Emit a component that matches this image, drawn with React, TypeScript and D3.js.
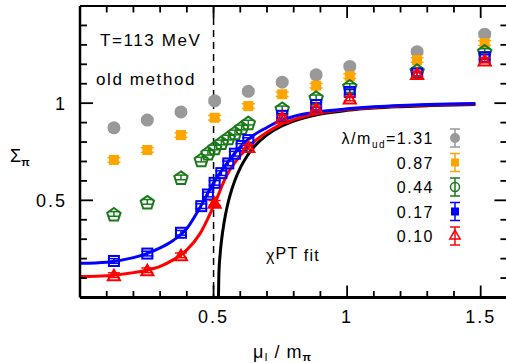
import React from "react";
import * as d3 from "d3";

// ---- data ----
const xLattice = [0.127, 0.252, 0.378, 0.504, 0.63, 0.757, 0.884, 1.01, 1.262, 1.515];
const xDense = [0.127, 0.252, 0.378, 0.454, 0.479, 0.504, 0.529, 0.555, 0.58, 0.605, 0.63, 0.757, 0.884, 1.01, 1.262, 1.515];

const grayY = [0.873, 0.913, 0.955, 1.012, 1.061, 1.108, 1.146, 1.189, 1.265, 1.355];
const orangeY = [0.708, 0.759, 0.836, 0.925, 0.985, 1.046, 1.09, 1.139, 1.222, 1.309];
const greenY = [0.43, 0.492, 0.618, 0.71, 0.745, 0.772, 0.798, 0.823, 0.849, 0.875, 0.9, 0.973, 1.03, 1.088, 1.169, 1.268];
const blueY = [0.188, 0.226, 0.333, 0.47, 0.53, 0.59, 0.64, 0.69, 0.74, 0.78, 0.81, 0.935, 0.99, 1.058, 1.152, 1.237];
const redY = [0.115, 0.14, 0.217, 0.487, 0.775, 0.925, 0.973, 1.024, 1.15, 1.22];
const errSmall = 0.012;

// fit curves
const fitX = [0, 0.1, 0.2, 0.25, 0.3, 0.35, 0.4, 0.45, 0.5, 0.55, 0.6, 0.65, 0.7, 0.75, 0.8, 0.9, 1.0, 1.1, 1.2, 1.3, 1.4, 1.48];
const blueFitY = [0.176, 0.182, 0.205, 0.226, 0.255, 0.295, 0.355, 0.465, 0.59, 0.69, 0.775, 0.835, 0.875, 0.91, 0.932, 0.957, 0.971, 0.981, 0.988, 0.993, 0.996, 0.998];
const redFitY = [0.108, 0.112, 0.128, 0.14, 0.16, 0.195, 0.245, 0.33, 0.47, 0.63, 0.73, 0.8, 0.85, 0.89, 0.915, 0.95, 0.967, 0.978, 0.985, 0.99, 0.994, 0.996];
const chptX = [0, 0.518, 0.52, 0.525, 0.53, 0.54, 0.55, 0.56, 0.58, 0.6, 0.625, 0.65, 0.7, 0.75, 0.8, 0.9, 1.0, 1.1, 1.2, 1.3, 1.4, 1.48];
const chptY = [0, 0, 0.124, 0.229, 0.296, 0.391, 0.462, 0.518, 0.603, 0.667, 0.727, 0.773, 0.837, 0.879, 0.908, 0.944, 0.963, 0.975, 0.982, 0.987, 0.991, 0.9925];

const legendLabels = ["1.31", "0.87", "0.44", "0.17", "0.10"];
const xTickLabels = [0.5, 1, 1.5];
const yTickLabels = [0.5, 1];

const GRAY = "#999999";
const ORANGE = "#ffa500";
const GREEN = "#1a7a1a";
const BLUE = "#0000ff";
const RED = "#ff0000";
const FONT = "'Liberation Sans', Arial, Helvetica, sans-serif";

const L = 80, R = 507.4, T = 6, B = 297.5;

export default function App() {
  const x = d3.scaleLinear().domain([0, 1.6]).range([L, R]);
  const y = d3.scaleLinear().domain([0, 1.5]).range([B, T]);
  const line = d3.line<[number, number]>().x(d => x(d[0])).y(d => y(d[1])).curve(d3.curveMonotoneX);
  const zip = (xs: number[], ys: number[]) => xs.map((v, i) => [v, ys[i]] as [number, number]);

  const minorX = d3.range(1, 16).map(i => i / 10);
  const minorY = d3.range(1, 15).map(i => i / 10);
  const isMajor = (v: number) => Math.abs(v * 2 - Math.round(v * 2)) < 1e-6;

  const errBar = (cx: number, cy: number, e: number, color: string, key: string, cap = 6) => {
    const y1 = y(e + 0), y0 = y(0);
    const d = y0 - y1;
    return (
      <g key={key} stroke={color} strokeWidth={1.5}>
        <line x1={cx} x2={cx} y1={cy - d} y2={cy + d} />
        <line x1={cx - cap} x2={cx + cap} y1={cy - d} y2={cy - d} />
        <line x1={cx - cap} x2={cx + cap} y1={cy + d} y2={cy + d} />
      </g>
    );
  };

  const pentagon = (cx: number, cy: number, r: number) => {
    const pts = d3.range(5).map(k => {
      const a = (-90 + k * 72) * Math.PI / 180;
      return [cx + r * Math.cos(a), cy + r * Math.sin(a) + 1];
    });
    return "M" + pts.map(p => p.join(",")).join("L") + "Z";
  };
  const triangle = (cx: number, cy: number, r: number) => {
    const pts = [0, 1, 2].map(k => {
      const a = (-90 + k * 120) * Math.PI / 180;
      return [cx + r * Math.cos(a), cy + r * Math.sin(a) + 1.5];
    });
    return "M" + pts.map(p => p.join(",")).join("L") + "Z";
  };

  const legendY = (i: number) => 138 + i * 24.5;
  const legX = 455;

  return (
    <svg width={506} height={363} style={{ position: "absolute", left: 0, top: 0, background: "#fff" }} fontFamily={FONT}>
      <rect x={0} y={0} width={506} height={363} fill="#fff" />
      {/* dashed vertical line */}
      <line x1={x(0.5)} x2={x(0.5)} y1={T} y2={B} stroke="#000" strokeWidth={1.5} strokeDasharray="7,5" />

      {/* fit curves */}
      <path d={line(zip(chptX, chptY)) || ""} fill="none" stroke="#000" strokeWidth={3} />
      <path d={line(zip(fitX, redFitY)) || ""} fill="none" stroke={RED} strokeWidth={3} />
      <path d={line(zip(fitX, blueFitY)) || ""} fill="none" stroke={BLUE} strokeWidth={3} />

      {/* gray */}
      {xLattice.map((v, i) => (
        <g key={"g" + i}>
          {errBar(x(v), y(grayY[i]), errSmall, GRAY, "ge" + i)}
          <circle cx={x(v)} cy={y(grayY[i])} r={6.5} fill={GRAY} />
        </g>
      ))}
      {/* orange */}
      {xLattice.map((v, i) => (
        <g key={"o" + i}>
          {errBar(x(v), y(orangeY[i]), errSmall, ORANGE, "oe" + i, 6.5)}
          <rect x={x(v) - 5} y={y(orangeY[i]) - 5} width={10} height={10} fill={ORANGE} />
        </g>
      ))}
      {/* green */}
      {xDense.map((v, i) => (
        <g key={"gr" + i}>
          {errBar(x(v), y(greenY[i]), errSmall, GREEN, "gre" + i)}
          <path d={pentagon(x(v), y(greenY[i]), 7)} fill="none" stroke={GREEN} strokeWidth={2} />
        </g>
      ))}
      {/* blue */}
      {xDense.map((v, i) => (
        <g key={"b" + i}>
          {errBar(x(v), y(blueY[i]), errSmall, BLUE, "be" + i)}
          <rect x={x(v) - 5} y={y(blueY[i]) - 5} width={10} height={10} fill="none" stroke={BLUE} strokeWidth={2} />
        </g>
      ))}
      {/* red */}
      {xLattice.map((v, i) => (
        <g key={"r" + i}>
          {errBar(x(v), y(redY[i]), errSmall, RED, "re" + i)}
          <path d={triangle(x(v), y(redY[i]), 7)} fill={i === 3 ? RED : "none"} stroke={RED} strokeWidth={2} />
        </g>
      ))}

      {/* frame */}
      <line x1={L} x2={L} y1={T} y2={B} stroke="#000" strokeWidth={2.5} />
      <line x1={L} x2={R} y1={B} y2={B} stroke="#000" strokeWidth={3} />
      <line x1={L} x2={R} y1={T} y2={T} stroke="#000" strokeWidth={2} />
      <line x1={R} x2={R} y1={T} y2={B} stroke="#000" strokeWidth={2} />
      {/* x ticks */}
      {minorX.map(v => {
        const len = isMajor(v) ? 12 : 6.5;
        return (
          <g key={"xt" + v} stroke="#000" strokeWidth={1.8}>
            <line x1={x(v)} x2={x(v)} y1={B} y2={B - len} />
            <line x1={x(v)} x2={x(v)} y1={T} y2={T + len} />
          </g>
        );
      })}
      {minorY.map(v => {
        const len = isMajor(v) ? 13 : 7;
        return (
          <g key={"yt" + v} stroke="#000" strokeWidth={1.8}>
            <line x1={L} x2={L + len} y1={y(v)} y2={y(v)} />
            <line x1={R} x2={R - len} y1={y(v)} y2={y(v)} />
          </g>
        );
      })}
      {xTickLabels.map(v => (
        <text key={"xl" + v} x={x(v)} y={323} textAnchor="middle" fontSize={18} letterSpacing={2}>{String(v)}</text>
      ))}
      {yTickLabels.map(v => (
        <text key={"yl" + v} x={67} y={y(v) + 6.5} textAnchor="end" fontSize={18} letterSpacing={2}>{String(v)}</text>
      ))}

      {/* axis titles */}
      <text x={10} y={162} fontSize={18}>Σ<tspan fontSize={11} dy={4} fontWeight="bold">π</tspan></text>
      <text x={253} y={358} fontSize={18} letterSpacing={1}>μ<tspan fontSize={11} dy={3}>I</tspan><tspan dy={-3}> / m</tspan><tspan fontSize={11} dy={3} fontWeight="bold">π</tspan></text>

      {/* annotations */}
      <text x={100} y={46} fontSize={17} letterSpacing={1.6}>T=113 MeV</text>
      <text x={96} y={85} fontSize={17} letterSpacing={1.6}>old method</text>
      <text x={266} y={261} fontSize={16} letterSpacing={1.2}>χ<tspan dy={-2}>PT</tspan><tspan dy={2}>  fit</tspan></text>

      {/* legend */}
      {legendLabels.map((lab, i) => (
        <text key={"lt" + i} x={434} y={legendY(i) + 6} textAnchor="end" fontSize={16} letterSpacing={1.5}>
          {i === 0 ? (<>
            λ/m<tspan fontSize={10} dy={4}>ud</tspan><tspan dy={-4}>={lab}</tspan>
          </>) : lab}
        </text>
      ))}
      {(() => {
        const items = [GRAY, ORANGE, GREEN, BLUE, RED];
        return items.map((c, i) => {
          const cy = legendY(i);
          const bar = (
            <g stroke={c} strokeWidth={1.5}>
              <line x1={legX} x2={legX} y1={cy - 9} y2={cy + 9} />
              <line x1={legX - 5} x2={legX + 5} y1={cy - 9} y2={cy - 9} />
              <line x1={legX - 5} x2={legX + 5} y1={cy + 9} y2={cy + 9} />
            </g>
          );
          let m: React.ReactNode = null;
          if (i === 0) m = <circle cx={legX} cy={cy} r={5} fill={c} />;
          if (i === 1) m = <rect x={legX - 4} y={cy - 4} width={8} height={8} fill={c} />;
          if (i === 2) m = <circle cx={legX} cy={cy} r={4.5} fill="none" stroke={c} strokeWidth={1.5} />;
          if (i === 3) m = <rect x={legX - 4} y={cy - 4} width={8} height={8} fill={c} />;
          if (i === 4) m = <path d={triangle(legX, cy - 1.5, 6)} fill="none" stroke={c} strokeWidth={1.5} />;
          return <g key={"lm" + i}>{bar}{m}</g>;
        });
      })()}
    </svg>
  );
}
